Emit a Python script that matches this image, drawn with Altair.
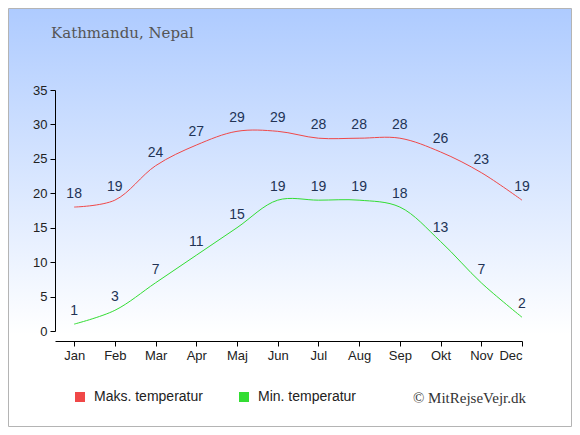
import altair as alt
import pandas as pd

months = ["Jan", "Feb", "Mar", "Apr", "Maj", "Jun", "Jul", "Aug", "Sep", "Okt", "Nov", "Dec"]
max_temp = [18, 19, 24, 27, 29, 29, 28, 28, 28, 26, 23, 19]
min_temp = [1, 3, 7, 11, 15, 19, 19, 19, 18, 13, 7, 2]
series_names = ["Maks. temperatur", "Min. temperatur"]
series_colors = ["#f04848", "#33dd33"]

rows = []
for i, m in enumerate(months):
    rows.append({"idx": i, "month": m, "serie": series_names[0], "temp": max_temp[i]})
    rows.append({"idx": i, "month": m, "serie": series_names[1], "temp": min_temp[i]})
df = pd.DataFrame(rows)

W, H = 467, 241
PL, PT, PR, PB = 47, 82, 50, 96

label_expr = "[" + ",".join(f"'{m}'" for m in months) + "][datum.value]"

x = alt.X("idx:Q", scale=alt.Scale(domain=[-0.47, 11], nice=False, zero=False),
          axis=alt.Axis(values=list(range(12)), labelExpr=label_expr, title=None, grid=False,
                        offset=10, domainColor="#000", tickColor="#000", tickSize=5,
                        labelColor="#222", labelFontSize=13, labelFont="Liberation Sans",
                        labelPadding=3, domainWidth=1, zindex=1, labelOverlap=False))
y = alt.Y("temp:Q", scale=alt.Scale(domain=[0, 35], nice=False),
          axis=alt.Axis(values=list(range(0, 36, 5)), title=None, grid=False,
                        domainColor="#000", tickColor="#000", tickSize=5,
                        labelColor="#222", labelFontSize=13, labelFont="Liberation Sans",
                        labelPadding=3, zindex=1, labelOverlap=False))

color = alt.Color("serie:N", scale=alt.Scale(domain=series_names, range=series_colors),
                  legend=alt.Legend(title=None, orient="none", legendX=18, legendY=300,
                                    direction="horizontal", symbolType="square", symbolSize=4,
                                    symbolStrokeWidth=8, symbolOpacity=1, labelFontSize=14,
                                    labelFont="Liberation Sans", labelColor="#222",
                                    columnPadding=24, labelOffset=7))

bg = alt.Chart(pd.DataFrame({"a": [0]})).mark_rect(
    fill=alt.Gradient(gradient="linear",
                      stops=[alt.GradientStop(color="#aecbff", offset=0),
                             alt.GradientStop(color="#ffffff", offset=0.78),
                             alt.GradientStop(color="#ffffff", offset=1)],
                      x1=0, x2=0, y1=0, y2=1),
    stroke="#b4b4b4", strokeWidth=1
).encode(x=alt.value(-PL + 0.5), x2=alt.value(W + PR - 0.5),
         y=alt.value(-PT + 0.5), y2=alt.value(H + PB - 0.5))

lines = alt.Chart(df).mark_line(interpolate="catmull-rom", strokeWidth=1).encode(
    x=x, y=y, color=color, detail="serie:N")

labels = alt.Chart(df).mark_text(dy=-13, fontSize=14, font="Liberation Sans", color="#223355").encode(
    x=x, y=y, text="temp:Q")

title = alt.Chart(pd.DataFrame({"a": [0]})).mark_text(
    text="Kathmandu, Nepal", font="DejaVu Serif", fontSize=15, color="#555555",
    align="left", baseline="alphabetic").encode(x=alt.value(-4), y=alt.value(-52))

credit = alt.Chart(pd.DataFrame({"a": [0]})).mark_text(
    text="© MitRejseVejr.dk", font="Liberation Serif", fontSize=15, color="#333333",
    align="right", baseline="alphabetic").encode(x=alt.value(471), y=alt.value(313))

chart = alt.layer(bg, lines, labels, title, credit).properties(
    width=W, height=H,
    autosize=alt.AutoSizeParams(type="none"),
    padding={"left": PL, "top": PT, "right": PR, "bottom": PB},
).configure_view(stroke=None).configure(background="white")

chart.save("out.html", embed_options={"renderer": "svg", "actions": False})
